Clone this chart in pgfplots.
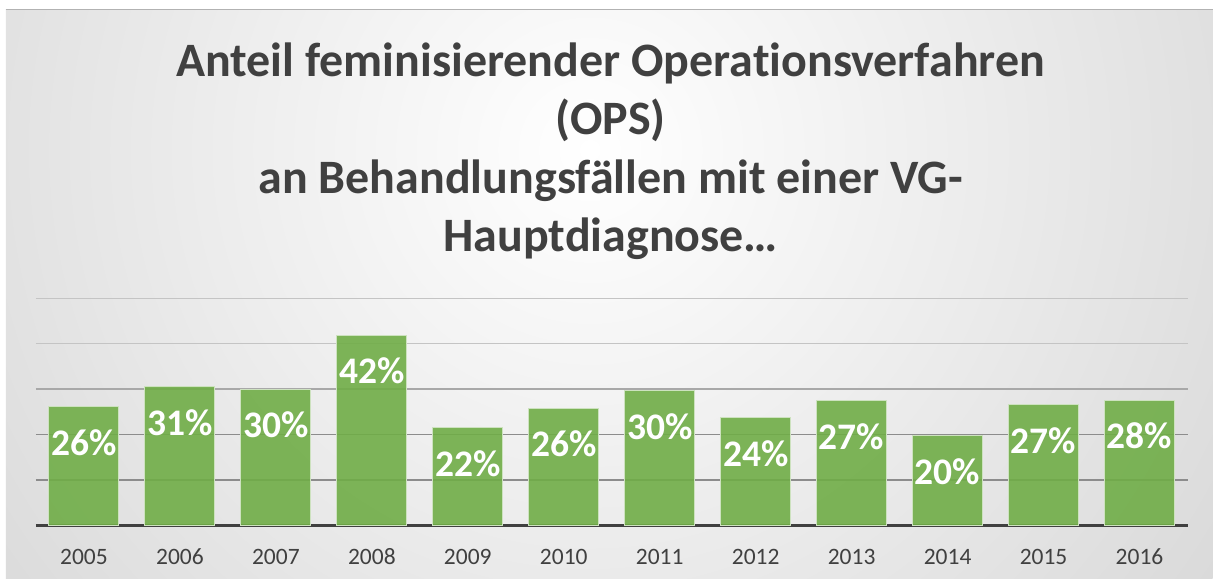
\documentclass[border=0pt]{standalone}
\usepackage{pgfplots}
\pgfplotsset{compat=1.18}
\usepackage{fontspec}
\setmainfont{Carlito}[RawFeature={-liga}]
\definecolor{txt}{HTML}{404040}
\definecolor{barc}{HTML}{70AD47}
\definecolor{gridd}{HTML}{8C8C8C}
\definecolor{gridm}{HTML}{A8A8A8}
\definecolor{gridl}{HTML}{C4C4C4}
\begin{document}
\begin{tikzpicture}[x=1pt,y=1pt]
\fill[white] (0,0) rectangle (1213,579);
\begin{scope}
\clip (6,0) rectangle (1213,569);
\shade[inner color=white, outer color=black!24] (590,429) circle (1250);
\end{scope}
\draw[black!30, line width=1pt] (6,569) -- (1213,569);
\begin{axis}[
  at={(36pt,53.3pt)}, anchor=south west,
  scale only axis, width=1152pt, height=227.4pt,
  xmin=-0.5, xmax=11.5, ymin=0, ymax=50,
  axis x line*=bottom, axis y line*=left,
  x axis line style={-, draw=txt, line width=3pt},
  y axis line style={draw=none},
  major tick length=0pt, minor tick length=0pt,
  ytick={10,20}, yticklabels={},
  minor ytick={30},
  extra y ticks={40,50}, extra y tick labels={},
  ymajorgrids, yminorgrids,
  major grid style={gridd, line width=1.8pt},
  minor grid style={gridm, line width=1.5pt},
  extra y tick style={major grid style={gridl, line width=1.2pt}},
  xtick={0,1,2,3,4,5,6,7,8,9,10,11},
  xticklabels={2005,2006,2007,2008,2009,2010,2011,2012,2013,2014,2015,2016},
  xticklabel style={font=\fontsize{23.5}{26}\selectfont, text=txt, anchor=base, yshift=-38.6pt},
  ybar, bar width=70pt,
  point meta=explicit symbolic,
  nodes near coords={\pgfplotspointmeta\%},
  every node near coord/.append style={font=\bfseries\fontsize{37.5}{40}\selectfont, text=white, text opacity=1, anchor=center, yshift=-36pt},
]
\addplot[fill=barc, fill opacity=0.9, draw=barc!35!white, line width=1pt] coordinates {
  (0,26.1) [26]
  (1,30.5) [31]
  (2,30.0) [30]
  (3,41.9) [42]
  (4,21.6) [22]
  (5,25.8) [26]
  (6,29.6) [30]
  (7,23.7) [24]
  (8,27.4) [27]
  (9,19.8) [20]
  (10,26.6) [27]
  (11,27.6) [28]
};
\end{axis}
\begin{scope}[every node/.style={font=\bfseries\fontsize{48}{56}\selectfont, text=txt, anchor=base, inner sep=0pt}]
\node at (611,502.3) {Anteil feminisierender Operationsverfahren};
\node at (611,444) {(OPS)};
\node at (611,385.7) {an Behandlungsfällen mit einer VG-};
\node at (611,327.4) {Hauptdiagnose…};
\end{scope}
\end{tikzpicture}
\end{document}
